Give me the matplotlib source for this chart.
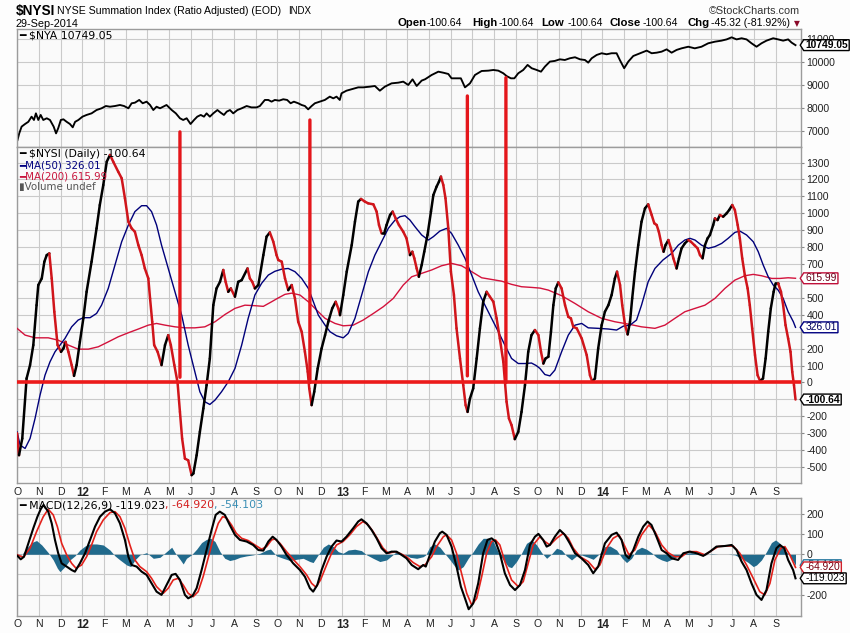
import matplotlib
matplotlib.use('Agg')
import matplotlib.pyplot as plt
import numpy as np
from matplotlib.collections import LineCollection
from matplotlib.patches import ConnectionPatch
from matplotlib.path import Path

# ---------------- data (time = months since 1 Oct 2011) ----------------
month_labels = ['O', 'N', 'D', '12', 'F', 'M', 'A', 'M', 'J', 'J', 'A', 'S',
                'O', 'N', 'D', '13', 'F', 'M', 'A', 'M', 'J', 'J', 'A', 'S',
                'O', 'N', 'D', '14', 'F', 'M', 'A', 'M', 'J', 'J', 'A', 'S']

nya = [(0, 6605), (0.08, 6895), (0.19, 7190), (0.35, 7305), (0.5, 7400), (0.65, 7625), (0.76, 7480),
       (0.85, 7770), (0.96, 7480), (1.07, 7700), (1.19, 7480), (1.35, 7555), (1.5, 7480), (1.67, 7190),
       (1.78, 6895), (1.88, 7120), (2.0, 7480), (2.12, 7510), (2.27, 7400), (2.42, 7305), (2.55, 7160),
       (2.66, 7400), (2.81, 7480), (3.0, 7625), (3.19, 7700), (3.42, 7770), (3.65, 7915), (3.88, 7990),
       (4.08, 8090), (4.27, 8060), (4.5, 8090), (4.73, 8135), (4.92, 8090), (5.12, 7990), (5.27, 8210),
       (5.42, 8235), (5.62, 8355), (5.78, 8210), (5.96, 8280), (6.12, 8135), (6.27, 7915), (6.42, 8060),
       (6.58, 7990), (6.73, 8060), (6.88, 8135), (7.12, 7915), (7.31, 7770), (7.5, 7555), (7.65, 7480),
       (7.81, 7555), (7.99, 7305), (8.15, 7480), (8.3, 7625), (8.46, 7700), (8.61, 7625), (8.73, 7770),
       (8.88, 7625), (9.04, 7770), (9.23, 7915), (9.38, 7800), (9.53, 7700), (9.66, 7845), (9.81, 7915),
       (9.96, 7770), (10.15, 7915), (10.35, 7990), (10.58, 8090), (10.8, 8030), (11.04, 8030),
       (11.19, 8090), (11.42, 8355), (11.58, 8355), (11.73, 8280), (11.88, 8355), (12.08, 8325),
       (12.27, 8385), (12.45, 8355), (12.61, 8210), (12.76, 8280), (12.96, 8210), (13.12, 8135),
       (13.27, 8090), (13.42, 7945), (13.58, 8090), (13.73, 8210), (13.96, 8280), (14.19, 8355),
       (14.42, 8500), (14.58, 8425), (14.73, 8500), (14.88, 8355), (14.96, 8645), (15.19, 8760),
       (15.42, 8820), (15.73, 8905), (15.96, 8905), (16.27, 8935), (16.5, 8965), (16.73, 8760),
       (16.96, 8935), (17.27, 9080), (17.58, 9110), (17.81, 9155), (18.04, 9010), (18.24, 9255),
       (18.43, 8965), (18.66, 9200), (18.82, 9260), (19.12, 9445), (19.43, 9590), (19.66, 9545),
       (19.89, 9490), (20.04, 9300), (20.27, 9300), (20.47, 9300), (20.66, 8905), (20.89, 9080),
       (21.12, 9445), (21.43, 9620), (21.74, 9635), (21.97, 9665), (22.2, 9635), (22.43, 9520),
       (22.58, 9400), (22.78, 9300), (22.94, 9300), (23.12, 9520), (23.35, 9665), (23.55, 9885),
       (23.74, 9740), (23.97, 9665), (24.17, 9590), (24.35, 9810), (24.58, 10030), (24.81, 10060),
       (25.04, 10130), (25.27, 10100), (25.5, 10175), (25.74, 10220), (25.97, 10130), (26.2, 10100),
       (26.35, 9985), (26.51, 10175), (26.74, 10320), (26.97, 10395), (27.2, 10350), (27.43, 10395),
       (27.66, 10395), (27.81, 10100), (28.01, 9740), (28.2, 10030), (28.43, 10275), (28.74, 10395),
       (29.05, 10510), (29.28, 10395), (29.51, 10420), (29.74, 10465), (29.97, 10565), (30.2, 10420),
       (30.43, 10540), (30.66, 10610), (30.97, 10680), (31.27, 10610), (31.58, 10680), (31.89, 10830),
       (32.2, 10900), (32.5, 10945), (32.74, 11000), (32.97, 11090), (33.2, 11000), (33.43, 11050),
       (33.66, 11000), (33.89, 10830), (34.12, 10680), (34.35, 10830), (34.58, 10945), (34.89, 11050),
       (35.12, 11000), (35.35, 10945), (35.58, 11000), (35.74, 10860), (35.92, 10749.05)]

nysi = [(-0.02, -300), (0.07, -430), (0.22, -331), (0.42, 24), (0.58, 103), (0.73, 221), (0.88, 457),
        (0.96, 576), (1.12, 615), (1.24, 714), (1.35, 753), (1.47, 763), (1.58, 615), (1.70, 418),
        (1.85, 221), (2.01, 181), (2.12, 201), (2.22, 240), (2.35, 181), (2.5, 103), (2.61, 39),
        (2.73, 103), (2.88, 240), (3.04, 379), (3.19, 536), (3.42, 714), (3.65, 911), (3.8, 1049),
        (3.96, 1167), (4.12, 1305), (4.27, 1345), (4.42, 1305), (4.65, 1246), (4.81, 1207), (4.96, 1089),
        (5.12, 950), (5.27, 911), (5.42, 891), (5.58, 812), (5.73, 753), (5.88, 674), (6.04, 615),
        (6.12, 497), (6.22, 359), (6.31, 221), (6.47, 181), (6.65, 103), (6.81, 221), (6.96, 280),
        (7.08, 221), (7.24, 103), (7.39, 0), (7.5, -174), (7.6, -331), (7.73, -450), (7.88, -460),
        (8.04, -548), (8.12, -538), (8.27, -430), (8.42, -292), (8.58, -154), (8.73, -16), (8.88, 142),
        (9.04, 457), (9.19, 556), (9.35, 595), (9.5, 665), (9.61, 595), (9.73, 536), (9.85, 556),
        (10.04, 507), (10.19, 595), (10.35, 605), (10.62, 674), (10.73, 615), (10.84, 595), (10.96, 556),
        (11.12, 576), (11.35, 753), (11.5, 862), (11.65, 887), (11.81, 832), (11.96, 753), (12.04, 724),
        (12.2, 714), (12.35, 615), (12.5, 546), (12.66, 576), (12.81, 497), (12.96, 359), (13.12, 300),
        (13.27, 181), (13.4, 63), (13.47, -35), (13.58, -134), (13.7, -55), (13.86, 83), (14.04, 201),
        (14.2, 280), (14.35, 359), (14.53, 438), (14.69, 477), (14.81, 438), (14.89, 398), (15.04, 517),
        (15.2, 655), (15.43, 812), (15.58, 950), (15.73, 1069), (15.86, 1085), (16.04, 1069),
        (16.19, 1059), (16.43, 1053), (16.58, 1010), (16.69, 931), (16.81, 881), (16.93, 881),
        (17.04, 931), (17.2, 990), (17.32, 1010), (17.46, 970), (17.61, 931), (17.81, 891), (17.96, 852),
        (18.12, 753), (18.23, 773), (18.32, 734), (18.43, 674), (18.53, 625), (18.66, 694), (18.78, 773),
        (18.93, 872), (19.09, 1010), (19.2, 1108), (19.35, 1158), (19.46, 1187), (19.55, 1217),
        (19.66, 1167), (19.76, 1089), (19.89, 911), (20.01, 655), (20.15, 517), (20.27, 320),
        (20.43, 142), (20.58, -16), (20.69, -134), (20.78, -174), (20.89, -95), (21.04, -35),
        (21.2, 142), (21.35, 320), (21.5, 477), (21.66, 536), (21.81, 507), (21.97, 477), (22.12, 379),
        (22.27, 260), (22.43, 122), (22.58, -114), (22.69, -213), (22.81, -252), (22.96, -335),
        (23.12, -292), (23.27, -174), (23.43, -16), (23.58, 181), (23.73, 280), (23.89, 310),
        (24.05, 280), (24.17, 181), (24.28, 112), (24.38, 142), (24.51, 152), (24.63, 300), (24.74, 457),
        (24.85, 556), (24.97, 592), (25.12, 556), (25.28, 457), (25.43, 388), (25.55, 379), (25.66, 329),
        (25.82, 320), (26.05, 260), (26.28, 162), (26.43, 43), (26.54, 4), (26.66, 24), (26.81, 201),
        (26.97, 339), (27.12, 418), (27.28, 457), (27.43, 517), (27.58, 615), (27.68, 655), (27.82, 576),
        (27.92, 457), (28.05, 339), (28.17, 284), (28.28, 359), (28.38, 497), (28.51, 655), (28.66, 812),
        (28.81, 950), (28.97, 1029), (29.12, 1053), (29.28, 990), (29.4, 941), (29.51, 931), (29.61, 891),
        (29.74, 812), (29.83, 773), (29.92, 812), (30.05, 842), (30.17, 793), (30.28, 734), (30.43, 674),
        (30.54, 734), (30.66, 793), (30.81, 822), (30.97, 842), (31.09, 832), (31.25, 812), (31.4, 793),
        (31.51, 753), (31.63, 734), (31.74, 812), (31.86, 852), (31.97, 872), (32.12, 931), (32.2, 970),
        (32.32, 960), (32.43, 990), (32.58, 980), (32.74, 1000), (32.86, 1020), (33.0, 1049),
        (33.12, 1020), (33.25, 931), (33.35, 852), (33.46, 734), (33.58, 635), (33.71, 556), (33.81, 457),
        (33.92, 320), (34.05, 162), (34.17, 43), (34.29, 8), (34.42, 24), (34.54, 142), (34.66, 300),
        (34.78, 438), (34.91, 536), (35.0, 586), (35.12, 586), (35.25, 536), (35.35, 457), (35.46, 339),
        (35.58, 260), (35.69, 181), (35.77, 63), (35.85, -16), (35.92, -100.64)]

ma50 = [(-0.02, -292), (0.12, -370), (0.35, -390), (0.58, -331), (0.81, -213), (1.04, -75), (1.27, 43),
        (1.5, 122), (1.73, 181), (1.96, 221), (2.19, 260), (2.5, 329), (2.8, 369), (3.04, 383),
        (3.35, 383), (3.65, 408), (3.88, 457), (4.19, 556), (4.5, 694), (4.81, 832), (5.12, 931),
        (5.42, 1010), (5.73, 1045), (5.96, 1045), (6.19, 1010), (6.42, 931), (6.65, 812), (6.96, 674),
        (7.27, 536), (7.58, 398), (7.88, 221), (8.19, 63), (8.42, -55), (8.65, -114), (8.88, -130),
        (9.12, -104), (9.42, -55), (9.73, 4), (10.04, 83), (10.35, 221), (10.65, 379), (10.96, 517),
        (11.27, 586), (11.58, 635), (11.88, 657), (12.2, 670), (12.5, 674), (12.81, 655), (13.12, 615),
        (13.43, 556), (13.66, 477), (13.89, 398), (14.2, 339), (14.43, 300), (14.73, 276), (15.04, 264),
        (15.27, 290), (15.58, 379), (15.89, 517), (16.2, 655), (16.5, 753), (16.81, 832), (17.12, 911),
        (17.43, 960), (17.66, 980), (17.89, 986), (18.12, 960), (18.35, 921), (18.66, 872), (18.97, 842),
        (19.2, 862), (19.5, 895), (19.81, 911), (20.04, 881), (20.35, 812), (20.66, 734), (20.97, 635),
        (21.27, 536), (21.58, 457), (21.89, 379), (22.2, 300), (22.5, 221), (22.81, 142), (23.12, 112),
        (23.43, 112), (23.73, 115), (23.95, 100), (24.12, 83), (24.35, 47), (24.58, 39), (24.81, 73),
        (25.12, 181), (25.43, 280), (25.74, 339), (26.05, 349), (26.35, 323), (26.81, 320), (27.28, 316),
        (27.66, 310), (27.97, 333), (28.28, 339), (28.58, 369), (28.81, 457), (29.12, 596), (29.43, 674),
        (29.8, 724), (30.2, 763), (30.51, 812), (30.81, 842), (31.05, 852), (31.28, 842), (31.58, 812),
        (31.89, 793), (32.2, 803), (32.51, 822), (32.81, 852), (33.12, 887), (33.35, 895), (33.66, 872),
        (33.97, 832), (34.2, 773), (34.43, 694), (34.66, 625), (34.89, 576), (35.12, 546), (35.35, 497),
        (35.58, 418), (35.82, 359), (35.92, 326.01)]

ma200 = [(-0.02, 320), (0.35, 280), (0.81, 264), (1.42, 264), (1.88, 250), (2.35, 221), (2.8, 197),
         (3.27, 197), (3.73, 211), (4.19, 240), (4.65, 270), (5.12, 294), (5.58, 316), (6.04, 339),
         (6.42, 349), (6.81, 339), (7.27, 329), (7.73, 323), (8.19, 323), (8.65, 329), (9.12, 359),
         (9.58, 402), (10.04, 438), (10.5, 457), (10.96, 454), (11.35, 450), (11.73, 477), (12.0, 497),
         (12.35, 521), (12.66, 528), (13.04, 517), (13.43, 477), (13.81, 428), (14.2, 379), (14.66, 349),
         (15.04, 335), (15.5, 339), (15.96, 369), (16.43, 408), (16.89, 448), (17.35, 497), (17.81, 576),
         (18.2, 625), (18.66, 645), (19.12, 665), (19.58, 690), (20.04, 704), (20.5, 690), (20.97, 655),
         (21.43, 619), (21.89, 609), (22.35, 599), (22.81, 580), (23.27, 566), (23.73, 562),
         (24.12, 558), (24.51, 546), (25.12, 513), (25.74, 467), (26.35, 418), (26.97, 379), (27.58, 359),
         (28.2, 345), (28.81, 329), (29.43, 320), (29.89, 339), (30.35, 379), (30.81, 418), (31.28, 438),
         (31.74, 457), (32.2, 497), (32.66, 556), (33.12, 605), (33.58, 631), (33.97, 639), (34.35, 631),
         (34.82, 615), (35.2, 615), (35.58, 619), (35.92, 615.99)]

macd = [(0, -8), (0.15, -25), (0.3, -12), (0.5, 54), (0.73, 129), (0.92, 186), (1.07, 223), (1.2, 244),
        (1.42, 211), (1.58, 153), (1.73, 71), (1.88, 5), (2.04, -45), (2.27, -61), (2.5, -78),
        (2.65, -86), (2.88, -45), (3.12, 5), (3.35, 71), (3.58, 137), (3.81, 186), (4.04, 211),
        (4.27, 223), (4.5, 203), (4.73, 153), (4.96, 71), (5.12, -12), (5.27, -53), (5.5, -61),
        (5.73, -86), (5.96, -102), (6.19, -144), (6.42, -185), (6.65, -201), (6.88, -152), (7.12, -102),
        (7.3, -97), (7.5, -127), (7.73, -201), (7.88, -218), (8.08, -206), (8.27, -168), (8.5, -78),
        (8.73, 21), (8.96, 120), (9.15, 195), (9.34, 211), (9.57, 195), (9.8, 145), (10.04, 96),
        (10.27, 71), (10.58, 63), (10.88, 46), (11.12, 21), (11.35, 18), (11.58, 63), (11.78, 87),
        (11.96, 71), (12.19, 38), (12.42, -3), (12.73, -45), (13.04, -78), (13.27, -111), (13.5, -168),
        (13.65, -185), (13.84, -152), (14.04, -78), (14.27, -12), (14.5, 38), (14.73, 68), (14.96, 63),
        (15.19, 87), (15.5, 129), (15.73, 162), (15.88, 173), (16.12, 153), (16.35, 120), (16.58, 79),
        (16.81, 30), (17.04, 5), (17.27, 13), (17.5, 13), (17.73, -3), (17.96, -20), (18.2, -53),
        (18.5, -74), (18.73, -53), (18.85, -61), (19.04, -3), (19.27, 63), (19.5, 104), (19.61, 112),
        (19.81, 96), (20.04, 38), (20.27, -61), (20.47, -160), (20.66, -218), (20.83, -272),
        (21.04, -243), (21.27, -144), (21.5, 5), (21.7, 71), (21.89, 79), (22.07, 63), (22.27, 5),
        (22.5, -94), (22.74, -152), (22.97, -177), (23.2, -152), (23.43, -78), (23.66, 46), (23.89, 87),
        (24.05, 101), (24.27, 71), (24.43, 38), (24.58, 46), (24.81, 87), (25.04, 120), (25.27, 96),
        (25.5, 54), (25.74, 5), (26.04, -20), (26.35, -53), (26.58, -94), (26.81, -61), (27.12, 54),
        (27.43, 96), (27.66, 107), (27.89, 71), (28.07, -3), (28.23, -20), (28.43, 21), (28.66, 87),
        (28.89, 137), (29.09, 162), (29.27, 145), (29.5, 87), (29.74, 21), (29.97, 5), (30.2, -20),
        (30.5, -28), (30.74, 5), (31.04, 13), (31.35, 5), (31.66, -8), (31.97, 13), (32.27, 38),
        (32.66, 41), (32.97, 46), (33.2, 21), (33.43, -36), (33.66, -78), (33.89, -144), (34.12, -201),
        (34.35, -226), (34.58, -177), (34.81, -45), (35.04, 30), (35.2, 46), (35.4, 30), (35.58, -28),
        (35.81, -78), (35.92, -119.023)]

signal = [(0, -3), (0.27, -15), (0.58, 30), (0.88, 112), (1.19, 186), (1.42, 223), (1.65, 195),
          (1.84, 137), (2.04, 54), (2.27, -3), (2.5, -45), (2.7, -69), (2.96, -53), (3.19, -12),
          (3.42, 46), (3.65, 112), (3.96, 170), (4.27, 206), (4.5, 211), (4.73, 186), (4.96, 129),
          (5.19, 46), (5.42, -28), (5.65, -61), (5.96, -86), (6.19, -119), (6.42, -160), (6.73, -193),
          (6.96, -168), (7.19, -127), (7.42, -119), (7.65, -152), (7.88, -193), (8.11, -210),
          (8.34, -185), (8.57, -111), (8.8, -20), (9.04, 79), (9.27, 153), (9.47, 186), (9.65, 180),
          (9.88, 145), (10.1, 104), (10.35, 79), (10.65, 68), (10.96, 46), (11.27, 25), (11.5, 38),
          (11.73, 71), (11.88, 76), (12.12, 54), (12.42, 13), (12.73, -25), (13.04, -61), (13.35, -102),
          (13.58, -144), (13.78, -163), (13.99, -127), (14.27, -53), (14.5, 5), (14.73, 46), (15.03, 63),
          (15.34, 96), (15.65, 137), (15.95, 162), (16.19, 145), (16.42, 112), (16.65, 71), (16.88, 30),
          (17.12, 5), (17.42, 13), (17.65, 5), (17.96, -12), (18.27, -41), (18.58, -61), (18.81, -53),
          (19.12, -12), (19.35, 38), (19.66, 87), (19.81, 96), (20.04, 71), (20.27, 5), (20.5, -94),
          (20.74, -193), (20.97, -251), (21.2, -218), (21.43, -111), (21.66, 5), (21.89, 63),
          (22.07, 71), (22.27, 46), (22.5, -36), (22.81, -127), (23.12, -160), (23.35, -135),
          (23.58, -45), (23.81, 46), (24.12, 87), (24.35, 63), (24.58, 46), (24.89, 79), (25.2, 104),
          (25.43, 79), (25.66, 30), (25.97, -12), (26.35, -36), (26.66, -74), (26.89, -53), (27.2, 30),
          (27.5, 79), (27.77, 96), (28.01, 46), (28.23, -3), (28.5, 21), (28.81, 96), (29.15, 145),
          (29.43, 112), (29.74, 46), (30.04, 8), (30.35, -12), (30.66, -12), (30.97, 13), (31.35, 13),
          (31.74, -3), (32.04, 18), (32.35, 38), (32.74, 41), (33.04, 41), (33.35, 5), (33.66, -53),
          (33.97, -119), (34.27, -185), (34.5, -201), (34.74, -144), (34.97, -28), (35.24, 30),
          (35.43, 38), (35.66, -3), (35.92, -64.92)]

hist = [(0, 0), (0.19, -3), (0.42, 30), (0.65, 58), (0.88, 68), (1.12, 46), (1.42, 8), (1.65, -28),
        (1.84, -69), (1.96, -86), (2.19, -61), (2.42, -28), (2.65, -8), (2.88, 21), (3.12, 41),
        (3.35, 51), (3.65, 51), (3.96, 46), (4.27, 21), (4.5, -8), (4.73, -28), (5.04, -53), (5.23, -61),
        (5.42, -28), (5.65, -3), (5.96, 8), (6.27, -20), (6.58, -15), (6.88, 13), (7.12, 35), (7.27, 8),
        (7.5, -25), (7.65, -48), (7.8, -20), (8.03, -3), (8.27, 25), (8.5, 58), (8.73, 74), (8.92, 79),
        (9.12, 63), (9.35, 13), (9.57, -20), (9.8, -31), (10.04, -25), (10.27, -15), (10.58, -8),
        (10.88, -3), (11.2, 5), (11.5, 21), (11.68, 26), (11.96, -8), (12.27, -20), (12.58, -31),
        (12.88, -25), (13.19, -20), (13.5, -36), (13.65, -41), (13.88, -3), (14.12, 35), (14.35, 51),
        (14.58, 38), (14.81, 13), (15.03, 5), (15.27, 21), (15.57, 25), (15.88, 18), (16.12, -3),
        (16.42, -20), (16.73, -36), (17.04, -28), (17.27, -8), (17.5, 13), (17.81, 2), (18.12, -15),
        (18.43, -20), (18.73, -12), (18.85, -3), (19.04, 38), (19.27, 51), (19.5, 35), (19.74, 2),
        (19.97, -28), (20.2, -61), (20.35, -78), (20.58, -61), (20.81, -20), (21.04, 13), (21.27, 51),
        (21.5, 79), (21.74, 79), (21.97, 63), (22.2, 8), (22.43, -28), (22.66, -61), (22.81, -66),
        (23.04, -36), (23.27, 5), (23.5, 54), (23.74, 71), (23.97, 46), (24.2, 8), (24.43, -20),
        (24.66, 2), (24.89, 30), (25.12, 21), (25.35, -8), (25.58, -28), (25.81, -8), (26.04, -3),
        (26.35, -15), (26.58, -25), (26.89, 5), (27.12, 38), (27.35, 41), (27.66, 21), (27.92, -20),
        (28.12, -41), (28.35, -20), (28.58, 21), (28.81, 35), (29.04, 25), (29.27, 8), (29.5, -15),
        (29.74, -28), (29.97, -36), (30.2, -25), (30.5, -8), (30.81, 5), (31.12, 8), (31.43, 2),
        (31.74, -3), (32.04, 2), (32.35, 0), (32.81, 0), (33.12, -3), (33.43, -20), (33.74, -41),
        (33.97, -61), (34.12, -53), (34.35, -28), (34.58, 13), (34.81, 58), (35.0, 71), (35.2, 54),
        (35.43, 21), (35.66, -8), (35.92, -54.103)]

# red hand-drawn marker lines: time, top (NYA units), bottom (NYSI units)
marker_t = [7.50, 13.50, 20.77, 22.55]
marker_top = [6960, 7480, 8530, 9330]
marker_bottom = [31, 0, 39, 0]

# right-axis labels hidden behind value tags in the reference
main_hidden = [600, 300, -100]
macd_hidden = [-100]

# ---------------- figure ----------------
W, H = 850, 633
SANS = 'Liberation Sans'
LEG = 'DejaVu Sans'
fig = plt.figure(figsize=(8.5, 6.33), dpi=100, facecolor='#fdfdfd')


def rect(x0, y0, x1, y1):
    return [x0 / W, 1 - y1 / H, (x1 - x0) / W, (y1 - y0) / H]


def fx(px):
    return px / W


def fy(py):
    return 1 - py / H


ax_top = fig.add_axes(rect(17, 29.3, 800.7, 147))
ax_main = fig.add_axes(rect(17, 147, 800.7, 483.3))
ax_macd = fig.add_axes(rect(17, 498.3, 800.7, 615.7))

XMIN, XMAX = -0.023, 36.16
for ax in (ax_top, ax_main, ax_macd):
    ax.set_xlim(XMIN, XMAX)
    ax.set_facecolor('#fafafa')
    for s in ax.spines.values():
        s.set_color('#9c9c9c')
        s.set_linewidth(1.0)
    ax.set_xticks(range(len(month_labels)))
    ax.grid(True, color='#cacaca', lw=0.8)
    ax.set_axisbelow(True)
    ax.yaxis.tick_right()
    ax.tick_params(axis='y', length=2.5, width=0.8, color='#888888', pad=1.5,
                   labelsize=7.6, labelcolor='#222222')
    ax.tick_params(axis='x', length=0, pad=2.5, labelsize=7.6, labelcolor='#222222')


def set_yt(ax, ticks, hidden=()):
    ax.set_yticks(ticks)
    ax.set_yticklabels(['' if v in hidden else str(v) for v in ticks], family=SANS)


# top panel
ax_top.set_ylim(6300, 11441)
set_yt(ax_top, [7000, 8000, 9000, 10000, 11000])
ax_top.set_xticklabels([])
ax_top.plot([p[0] for p in nya], [p[1] for p in nya], color='black', lw=1.35, solid_joinstyle='round')

# main panel
ax_main.set_ylim(-596, 1392)
set_yt(ax_main, list(range(-500, 1301, 100)), main_hidden)
ax_main.plot([p[0] for p in ma200], [p[1] for p in ma200], color='#d3123c', lw=1.0, zorder=3)
ax_main.plot([p[0] for p in ma50], [p[1] for p in ma50], color='#00007a', lw=1.0, zorder=3)
nt = np.array([p[0] for p in nysi])
nv = np.array([p[1] for p in nysi])
pts = np.column_stack([nt, nv])
segs = np.stack([pts[:-1], pts[1:]], axis=1)
cols = ['black' if d >= 0 else '#d0151b' for d in np.diff(nv)]
ax_main.add_collection(LineCollection(segs, colors=cols, linewidths=1.8, capstyle='round',
                                      joinstyle='round', zorder=4))
ax_main.axhline(0, color='#ec1b1b', lw=2.6, zorder=6)

# MACD panel
ax_macd.set_ylim(-304, 277)
set_yt(ax_macd, [-200, -100, 0, 100, 200], macd_hidden)
ht = [p[0] for p in hist]
hv = [p[1] for p in hist]
ax_macd.fill_between(ht, 0, hv, color='#216a8c', lw=0, zorder=2)
ax_macd.plot([p[0] for p in signal], [p[1] for p in signal], color='#e3221c', lw=1.2, zorder=3)
ax_macd.plot([p[0] for p in macd], [p[1] for p in macd], color='black', lw=1.5, zorder=4)

for ax in (ax_main, ax_macd):
    ax.set_xticklabels(month_labels)
    for lab in ax.get_xticklabels():
        lab.set_family(SANS)
        if lab.get_text().isdigit():
            lab.set_fontweight('bold')
            lab.set_fontsize(8.4)

# red marker lines spanning the top two panels
for t, top, bot in zip(marker_t, marker_top, marker_bottom):
    con = ConnectionPatch(xyA=(t, top), coordsA=ax_top.transData,
                          xyB=(t, bot), coordsB=ax_main.transData,
                          color='#e4161b', lw=2.4, zorder=7)
    fig.add_artist(con)


# value tags on the right
def tag_style(x0, y0, width, height, mutation_size):
    px = 0.14 * mutation_size
    py = 0.04 * mutation_size
    x0, y0 = x0 - px, y0 - py
    x1, y1 = x0 + width + 2 * px, y0 + height + 2 * py
    tip = (y1 - y0) * 0.32
    verts = [(x0, y0), (x1, y0), (x1, y1), (x0, y1), (x0 - tip, (y0 + y1) / 2), (x0, y0)]
    return Path(verts, [Path.MOVETO] + [Path.LINETO] * 4 + [Path.CLOSEPOLY])


def tag(ax, value, text, ec, tc, bold=False, z=20):
    ax.annotate(text, xy=(1, value), xycoords=ax.get_yaxis_transform(),
                xytext=(3.2, 0), textcoords='offset points', ha='left', va='center',
                fontsize=7.4, family=SANS, color=tc, fontweight='bold' if bold else 'normal',
                bbox=dict(boxstyle=tag_style, fc='white', ec=ec, lw=1.0),
                annotation_clip=False, zorder=z)


tag(ax_top, nya[-1][1], '10749.05', 'black', 'black', bold=True)
tag(ax_main, ma200[-1][1], '615.99', '#c0103a', '#6a0018')
tag(ax_main, ma50[-1][1], '326.01', '#000080', '#000060')
tag(ax_main, nysi[-1][1], '-100.64', 'black', 'black', bold=True)
tag(ax_macd, hist[-1][1], '-54.103', '#2a7aa0', '#1d5f80', z=18)
tag(ax_macd, signal[-1][1], '-64.920', '#d0202a', '#7a0010', z=19)
tag(ax_macd, macd[-1][1], '-119.023', 'black', 'black')

# legends inside panels
fig.text(fx(19), fy(36), '━ $NYA 10749.05', fontsize=7.8, family=LEG, va='center', color='black')
fig.text(fx(19), fy(154.3), '━ $NYSI (Daily) -100.64', fontsize=7.8, family=LEG, va='center', color='black')
fig.text(fx(19), fy(165.7), '━MA(50) 326.01', fontsize=7.4, family=LEG, va='center', color='#000080')
fig.text(fx(19), fy(176), '━MA(200) 615.99', fontsize=7.4, family=LEG, va='center', color='#c8143c')
fig.text(fx(19), fy(186.7), '▮Volume undef', fontsize=7.4, family=LEG, va='center', color='#555555')

t1 = fig.text(fx(19), fy(505), '━ MACD(12,26,9) -119.023', fontsize=7.9, family=LEG, va='center', color='black')
t2 = ax_macd.annotate(', -64.920', xy=(1, 0.5), xycoords=t1, va='center', ha='left',
                      fontsize=7.9, family=LEG, color='#d42020', annotation_clip=False)
ax_macd.annotate(', -54.103', xy=(1, 0.5), xycoords=t2, va='center', ha='left',
                 fontsize=7.9, family=LEG, color='#3b8fb5', annotation_clip=False)

# header
fig.text(fx(15.5), fy(11), '$NYSI', fontsize=9.8, fontweight='bold', family=SANS, va='center')
fig.text(fx(57), fy(11), 'NYSE Summation Index (Ratio Adjusted) (EOD)', fontsize=7.55, family=SANS, va='center')
fig.text(fx(288), fy(11), 'INDX', fontsize=7.0, family=SANS, va='center')
fig.text(fx(16), fy(23.7), '29-Sep-2014', fontsize=7.8, family=SANS, va='center')
fig.text(fx(800), fy(10.7), '©StockCharts.com', fontsize=7.8, family=SANS, va='center', ha='right', color='#333333')

hdr = [(398, 'Open', True), (427, '-100.64', False), (472, 'High', True), (499, '-100.64', False),
       (541, 'Low', True), (568, '-100.64', False), (610, 'Close', True), (643, '-100.64', False),
       (687, 'Chg', True), (711, '-45.32 (-81.92%)', False)]
for x, s, b in hdr:
    fig.text(fx(x), fy(23.5), s, fontsize=8.2 if b else 7.6, fontweight='bold' if b else 'normal',
             family=SANS, va='center')
fig.text(fx(797), fy(24), '▼', fontsize=5.5, family='DejaVu Sans', va='center', ha='center', color='#8b0a2a')

fig.savefig('out.png', dpi=100, facecolor=fig.get_facecolor())
